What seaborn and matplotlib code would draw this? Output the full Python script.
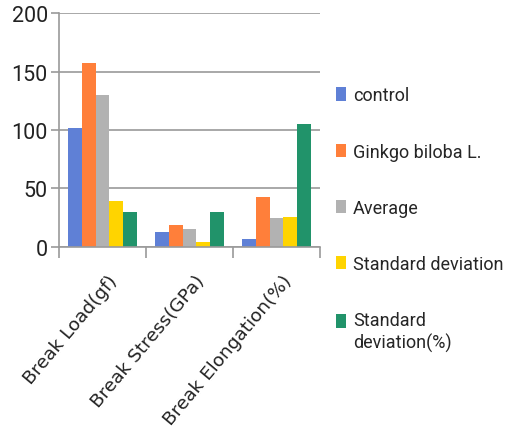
import matplotlib
matplotlib.use("Agg")
import matplotlib.pyplot as plt
import matplotlib.transforms as mtransforms
from matplotlib.legend_handler import HandlerPatch
from matplotlib.patches import Rectangle
import seaborn as sns
import pandas as pd

categories = ["Break Load(gf)", "Break Stress(GPa)", "Break Elongation(%)"]
series = ["control", "Ginkgo biloba L.", "Average", "Standard deviation", "Standard\ndeviation(%)"]
control = [102, 12.5, 6.8]
ginkgo = [157, 18.8, 43]
average = [130, 15.7, 24.8]
std_dev = [39, 4.6, 25.6]
std_dev_pct = [30, 30, 105.5]
colors = ["#5F80D6", "#FF7F3A", "#B2B2B2", "#FFD400", "#21936A"]
yticks = [0, 50, 100, 150, 200]

values = [control, ginkgo, average, std_dev, std_dev_pct]
df = pd.DataFrame({
    "category": categories * len(series),
    "series": [s for s in series for _ in categories],
    "value": [v for vals in values for v in vals],
})

sns.set_style("white")
plt.rcParams["font.family"] = ["Roboto", "DejaVu Sans"]

fig = plt.figure(figsize=(5.14, 4.35), dpi=100)
ax = fig.add_axes([0.1148, 0.4299, 0.5078, 0.5379])

sns.barplot(data=df, x="category", y="value", hue="series", order=categories,
            hue_order=series, palette=colors, width=0.79, saturation=1,
            linewidth=0, ax=ax, legend=True)

ax.set_ylim(0, 200)
ax.set_xlim(-0.5, 2.5)
ax.set_yticks(yticks)
ax.set_yticklabels([str(t) for t in yticks], fontsize=15.5, color="#222222")
ax.yaxis.grid(True, color="#9A9A9A", linewidth=1.2)
ax.set_axisbelow(True)
ax.tick_params(axis="y", length=6, width=1.2, color="#9A9A9A", pad=2, left=True)

# category boundary tick marks on the x axis
ax.set_xticks([-0.5, 0.5, 1.5, 2.5], minor=True)
ax.tick_params(axis="x", which="minor", length=8, width=1.2, color="#9A9A9A", bottom=True)
ax.tick_params(axis="x", which="major", length=0, pad=17.5)
ax.set_xticks(range(len(categories)))
ax.set_xticklabels(categories, rotation=50, ha="right", rotation_mode="anchor",
                   fontsize=13.3, family=["DejaVu Sans"], color="#222222")
shift = mtransforms.ScaledTranslation(5 / 100, 0, fig.dpi_scale_trans)
for lbl in ax.get_xticklabels():
    lbl.set_transform(lbl.get_transform() + shift)

for side in ["top", "right"]:
    ax.spines[side].set_visible(False)
for side in ["left", "bottom"]:
    ax.spines[side].set_color("#9A9A9A")
    ax.spines[side].set_linewidth(1.2)

ax.set_xlabel("")
ax.set_ylabel("")


def top_aligned_patch(legend, orig_handle, xdescent, ydescent, width, height, fontsize):
    # put the swatch next to the first line of a two-line label
    return Rectangle((-xdescent, -ydescent + 0.62 * fontsize), width, height)


handles, labels = ax.get_legend_handles_labels()
handler_map = {handles[-1]: HandlerPatch(patch_func=top_aligned_patch)}
ax.legend(handles, labels, loc="upper left", bbox_to_anchor=(1.06, 0.687),
          frameon=False, fontsize=13, handlelength=0.55, handleheight=0.75,
          handletextpad=0.4, labelspacing=2.12, borderaxespad=0,
          borderpad=0, handler_map=handler_map)

fig.savefig("out.png", dpi=100)
